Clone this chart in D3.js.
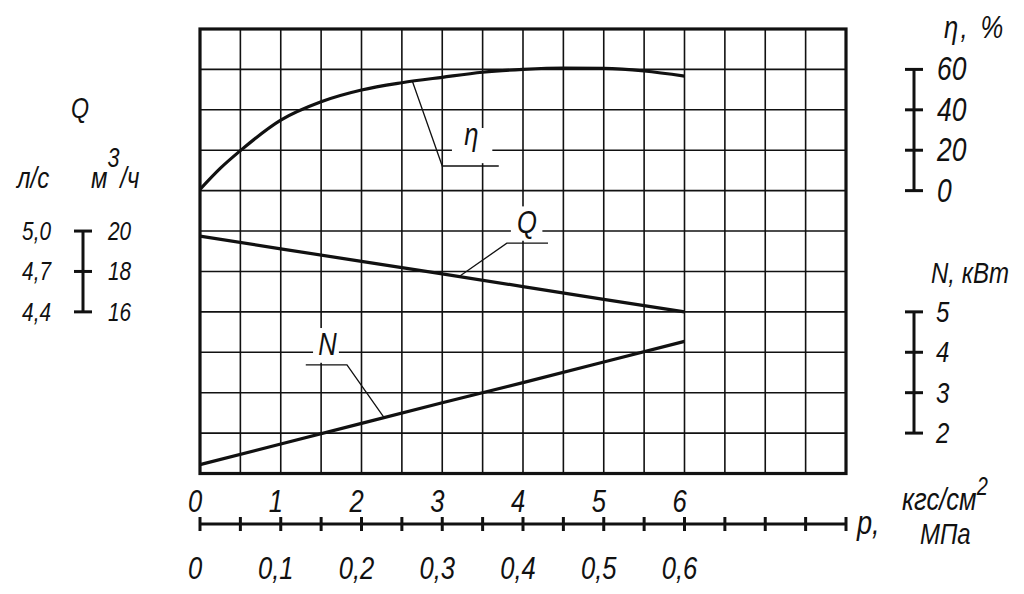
<!DOCTYPE html>
<html>
<head>
<meta charset="utf-8">
<script src="https://cdn.jsdelivr.net/npm/d3@7"></script>
<style>
  html, body { margin: 0; padding: 0; background: #fff; }
  svg text {
    font-family: "Liberation Sans", Arimo, "DejaVu Sans", sans-serif;
    font-style: italic;
    fill: #111;
  }
</style>
</head>
<body>
<svg id="chart" width="1024" height="594"></svg>
<script>
// pressure, kgf/cm2
const etaP = [0, 0.25, 0.5, 1, 1.5, 2, 2.5, 3, 3.5, 4, 4.5, 5, 5.5, 6];
const etaVal = [0.6, 11, 19.8, 34.9, 44.0, 49.8, 53.4, 56.1, 58.6, 60.0, 60.7, 60.5, 59.2, 56.7];

const lineP = [0, 1, 2, 3, 4, 5, 6];
const qVal = [19.75, 19.12, 18.5, 17.88, 17.25, 16.62, 16.0];   // m3/h
const nVal = [1.22, 1.73, 2.24, 2.75, 3.25, 3.76, 4.27];       // kW

const pTicks = [0, 1, 2, 3, 4, 5, 6];
const mpaLabels = ["0", "0,1", "0,2", "0,3", "0,4", "0,5", "0,6"];
const etaTicks = [0, 20, 40, 60];
const nTicks = [2, 3, 4, 5];
const qTicks = [20, 18, 16];
const lsLabels = ["5,0", "4,7", "4,4"];

const svg = d3.select("#chart");

// grid of 16 x 11 cells
const x = d3.scaleLinear().domain([0, 8]).range([200, 846]);
const row = d3.scaleLinear().domain([0, 11]).range([29, 473.5]);
const yEta = d3.scaleLinear().domain([0, 60]).range([row(4), row(1)]);
const yQ = d3.scaleLinear().domain([16, 20]).range([row(7), row(5)]);
const yN = d3.scaleLinear().domain([2, 5]).range([row(10), row(7)]);

// narrow drafting-style text
function label(px, py, txt, size, anchor) {
    return svg.append("text")
        .attr("transform", "translate(" + px + "," + py + ") scale(0.8,1)")
        .attr("text-anchor", anchor || "start")
        .attr("font-size", size)
        .text(txt);
}

let grid = svg.append("g").attr("stroke", "#111").attr("stroke-width", 1.6);
d3.range(0.5, 8, 0.5).forEach(p => {
    grid.append("line").attr("x1", x(p)).attr("x2", x(p)).attr("y1", row(0)).attr("y2", row(11));
});
d3.range(1, 11).forEach(k => {
    grid.append("line").attr("x1", x(0)).attr("x2", x(8)).attr("y1", row(k)).attr("y2", row(k));
});

svg.append("rect")
    .attr("x", x(0)).attr("y", row(0))
    .attr("width", x(8) - x(0)).attr("height", row(11) - row(0))
    .attr("fill", "none").attr("stroke", "#111").attr("stroke-width", 3.2);

// curves
function drawCurve(ps, vals, yScale, curve) {
    let line = d3.line()
        .x((d, i) => x(ps[i]))
        .y(d => yScale(d))
        .curve(curve);
    svg.append("path")
        .attr("d", line(vals))
        .attr("fill", "none")
        .attr("stroke", "#111")
        .attr("stroke-width", 3.2);
}
drawCurve(etaP, etaVal, yEta, d3.curveMonotoneX);
drawCurve(lineP, qVal, yQ, d3.curveLinear);
drawCurve(lineP, nVal, yN, d3.curveLinear);

// leader lines with labels (p along curve, knee in grid rows)
const leaders = [
    { label: "η", ps: etaP, vals: etaVal, y: yEta, p0: 2.63, kneeP: 3.0, kneeRow: 3.39, endP: 3.7, labP: 3.36, labRow: 3.0, box: [3.12, 3.62, 2.45, 3.32] },
    { label: "Q", ps: lineP, vals: qVal, y: yQ, p0: 3.21, kneeP: 3.8, kneeRow: 5.30, endP: 4.31, labP: 4.05, labRow: 5.17, box: [3.85, 4.24, 4.39, 5.24] },
    { label: "N", ps: lineP, vals: nVal, y: yN, p0: 2.28, kneeP: 1.82, kneeRow: 8.31, endP: 1.31, labP: 1.58, labRow: 8.2, box: [1.4, 1.72, 7.4, 8.26] }
];

leaders.forEach(d => {
    let v0 = d3.scaleLinear().domain(d.ps).range(d.vals)(d.p0);
    svg.append("rect")
        .attr("x", x(d.box[0])).attr("y", row(d.box[2]))
        .attr("width", x(d.box[1]) - x(d.box[0]))
        .attr("height", row(d.box[3]) - row(d.box[2]))
        .attr("fill", "#fff");
    svg.append("polyline")
        .attr("points", [[x(d.p0), d.y(v0)], [x(d.kneeP), row(d.kneeRow)], [x(d.endP), row(d.kneeRow)]].join(" "))
        .attr("fill", "none")
        .attr("stroke", "#111")
        .attr("stroke-width", 1.3);
    label(x(d.labP), row(d.labRow) - 5, d.label, 32, "middle");
});

// pressure axis
const axisY = 524;
let ax = svg.append("g").attr("stroke", "#111").attr("stroke-width", 3);
ax.append("line").attr("x1", x(0)).attr("x2", x(8)).attr("y1", axisY).attr("y2", axisY);
d3.range(0, 8.01, 0.5).forEach(p => {
    ax.append("line").attr("x1", x(p)).attr("x2", x(p)).attr("y1", axisY - 7).attr("y2", axisY + 7);
});

pTicks.forEach((p, i) => {
    label(x(p) - 5, 512, p, 32, "middle");
    label(x(p) - 5, 579, mpaLabels[i], 32, "middle");
});

label(857, 534, "р,", 34);
let unitP = label(902, 510, "кгс/см", 32);
unitP.append("tspan").attr("dy", -15).attr("font-size", 25).text("2");
label(920, 544, "МПа", 30);

// side scales
function sideScale(xPos, ticks, yScale) {
    let g = svg.append("g").attr("stroke", "#111").attr("stroke-width", 3);
    g.append("line").attr("x1", xPos).attr("x2", xPos)
        .attr("y1", yScale(d3.min(ticks))).attr("y2", yScale(d3.max(ticks)));
    ticks.forEach(t => {
        g.append("line").attr("x1", xPos - 9).attr("x2", xPos + 9)
            .attr("y1", yScale(t)).attr("y2", yScale(t));
    });
}

sideScale(914, etaTicks, yEta);
etaTicks.forEach(t => label(937, yEta(t) + 11, t, 33));
let etaHead = label(944, 38, "η", 32);
etaHead.append("tspan").attr("dx", 3).text(",");
etaHead.append("tspan").attr("dx", 16).text("%");

sideScale(914, nTicks, yN);
nTicks.forEach(t => label(936, yN(t) + 10, t, 30));
label(931, 283, "N, кВт", 30);

sideScale(83, qTicks, yQ);
qTicks.forEach((t, i) => {
    label(108, yQ(t) + 9, t, 26);
    label(51, yQ(t) + 9, lsLabels[i], 26, "end");
});
label(80, 118, "Q", 29, "middle");
label(17, 188, "л/с", 30);
let unitQ = label(91, 188, "м", 30);
unitQ.append("tspan").attr("dy", -21).attr("font-size", 27).text("3");
unitQ.append("tspan").attr("dx", 1).attr("dy", 21).text("/ч");
</script>
</body>
</html>
